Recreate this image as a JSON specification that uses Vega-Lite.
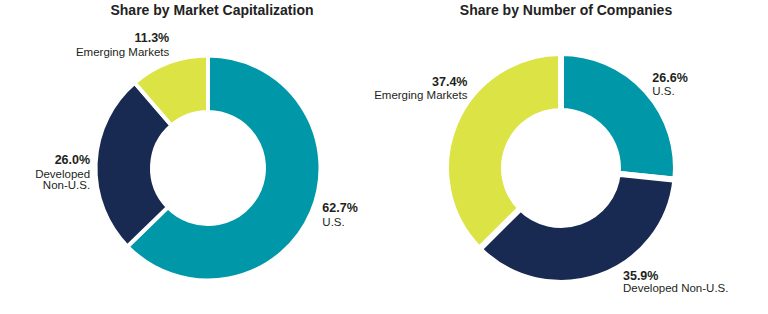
{
  "$schema": "https://vega.github.io/schema/vega-lite/v6.json",
  "padding": {"left": 35, "top": 4, "right": 35, "bottom": 0},
  "bounds": "flush",
  "spacing": 13,
  "background": "white",
  "config": {
    "view": {"stroke": null},
    "title": {"font": "Liberation Sans", "fontSize": 14, "fontWeight": "bold", "color": "#222222", "anchor": "middle", "offset": 6},
    "text": {"font": "Liberation Sans", "color": "#231F20", "baseline": "middle", "radius": 123}
  },
  "hconcat": [
    {
      "width": 340,
      "height": 288,
      "title": {"text": "Share by Market Capitalization", "dx": 4},
      "data": {"values": [
        {"category": "U.S.", "label": "U.S.", "pct": "62.7%", "value": 62.7, "rank": 1},
        {"category": "Developed Non-U.S.", "label": "Developed\nNon-U.S.", "pct": "26.0%", "value": 26.0, "rank": 2},
        {"category": "Emerging Markets", "label": "Emerging Markets", "pct": "11.3%", "value": 11.3, "rank": 3}
      ]},
      "encoding": {
        "theta": {"field": "value", "type": "quantitative", "stack": true},
        "order": {"field": "rank", "type": "quantitative", "sort": "ascending"}
      },
      "layer": [
        {
          "mark": {"type": "arc", "innerRadius": 56, "outerRadius": 112.5, "stroke": "white", "strokeWidth": 4},
          "encoding": {
            "color": {"field": "category", "type": "nominal", "legend": null,
              "scale": {"domain": ["U.S.", "Developed Non-U.S.", "Emerging Markets"], "range": ["#0098A8", "#182A52", "#DCE344"]}}
          }
        },
        {
          "mark": {"type": "text", "align": "left", "dx": 1, "dy": -8, "fontSize": 12.5, "fontWeight": "bold"},
          "encoding": {"text": {"condition": {"test": "datum.category === 'U.S.'", "field": "pct", "type": "nominal"}, "value": ""}}
        },
        {
          "mark": {"type": "text", "align": "left", "dx": 1, "dy": 7, "fontSize": 11.5},
          "encoding": {"text": {"condition": {"test": "datum.category === 'U.S.'", "field": "label", "type": "nominal"}, "value": ""}}
        },
        {
          "mark": {"type": "text", "align": "right", "dx": 5, "dy": -3, "fontSize": 12.5, "fontWeight": "bold"},
          "encoding": {"text": {"condition": {"test": "datum.category === 'Developed Non-U.S.'", "field": "pct", "type": "nominal"}, "value": ""}}
        },
        {
          "mark": {"type": "text", "align": "right", "dx": 5, "dy": 12, "fontSize": 11.5, "lineBreak": "\n", "lineHeight": 11.5},
          "encoding": {"text": {"condition": {"test": "datum.category === 'Developed Non-U.S.'", "field": "label", "type": "nominal"}, "value": ""}}
        },
        {
          "mark": {"type": "text", "align": "right", "dx": 4, "dy": -15, "fontSize": 12.5, "fontWeight": "bold"},
          "encoding": {"text": {"condition": {"test": "datum.category === 'Emerging Markets'", "field": "pct", "type": "nominal"}, "value": ""}}
        },
        {
          "mark": {"type": "text", "align": "right", "dx": 4, "dy": 0, "fontSize": 11.5},
          "encoding": {"text": {"condition": {"test": "datum.category === 'Emerging Markets'", "field": "label", "type": "nominal"}, "value": ""}}
        }
      ]
    },
    {
      "width": 340,
      "height": 288,
      "title": {"text": "Share by Number of Companies", "dx": 5},
      "data": {"values": [
        {"category": "U.S.", "label": "U.S.", "pct": "26.6%", "value": 26.6, "rank": 1},
        {"category": "Developed Non-U.S.", "label": "Developed Non-U.S.", "pct": "35.9%", "value": 35.9, "rank": 2},
        {"category": "Emerging Markets", "label": "Emerging Markets", "pct": "37.4%", "value": 37.4, "rank": 3}
      ]},
      "encoding": {
        "theta": {"field": "value", "type": "quantitative", "stack": true},
        "order": {"field": "rank", "type": "quantitative", "sort": "ascending"}
      },
      "layer": [
        {
          "mark": {"type": "arc", "innerRadius": 57, "outerRadius": 115, "stroke": "white", "strokeWidth": 6},
          "encoding": {
            "color": {"field": "category", "type": "nominal", "legend": null,
              "scale": {"domain": ["U.S.", "Developed Non-U.S.", "Emerging Markets"], "range": ["#0098A8", "#182A52", "#DCE344"]}}
          }
        },
        {
          "mark": {"type": "text", "align": "left", "dx": 0, "dy": -8, "fontSize": 12.5, "fontWeight": "bold"},
          "encoding": {"text": {"condition": {"test": "datum.category === 'U.S.'", "field": "pct", "type": "nominal"}, "value": ""}}
        },
        {
          "mark": {"type": "text", "align": "left", "dx": 0, "dy": 6, "fontSize": 11.5},
          "encoding": {"text": {"condition": {"test": "datum.category === 'U.S.'", "field": "label", "type": "nominal"}, "value": ""}}
        },
        {
          "mark": {"type": "text", "align": "left", "dx": 21, "dy": -8, "fontSize": 12.5, "fontWeight": "bold"},
          "encoding": {"text": {"condition": {"test": "datum.category === 'Developed Non-U.S.'", "field": "pct", "type": "nominal"}, "value": ""}}
        },
        {
          "mark": {"type": "text", "align": "left", "dx": 21, "dy": 5, "fontSize": 11.5},
          "encoding": {"text": {"condition": {"test": "datum.category === 'Developed Non-U.S.'", "field": "label", "type": "nominal"}, "value": ""}}
        },
        {
          "mark": {"type": "text", "align": "right", "dx": 20, "dy": -39, "fontSize": 12.5, "fontWeight": "bold"},
          "encoding": {"text": {"condition": {"test": "datum.category === 'Emerging Markets'", "field": "pct", "type": "nominal"}, "value": ""}}
        },
        {
          "mark": {"type": "text", "align": "right", "dx": 20, "dy": -25, "fontSize": 11.5},
          "encoding": {"text": {"condition": {"test": "datum.category === 'Emerging Markets'", "field": "label", "type": "nominal"}, "value": ""}}
        }
      ]
    }
  ]
}
